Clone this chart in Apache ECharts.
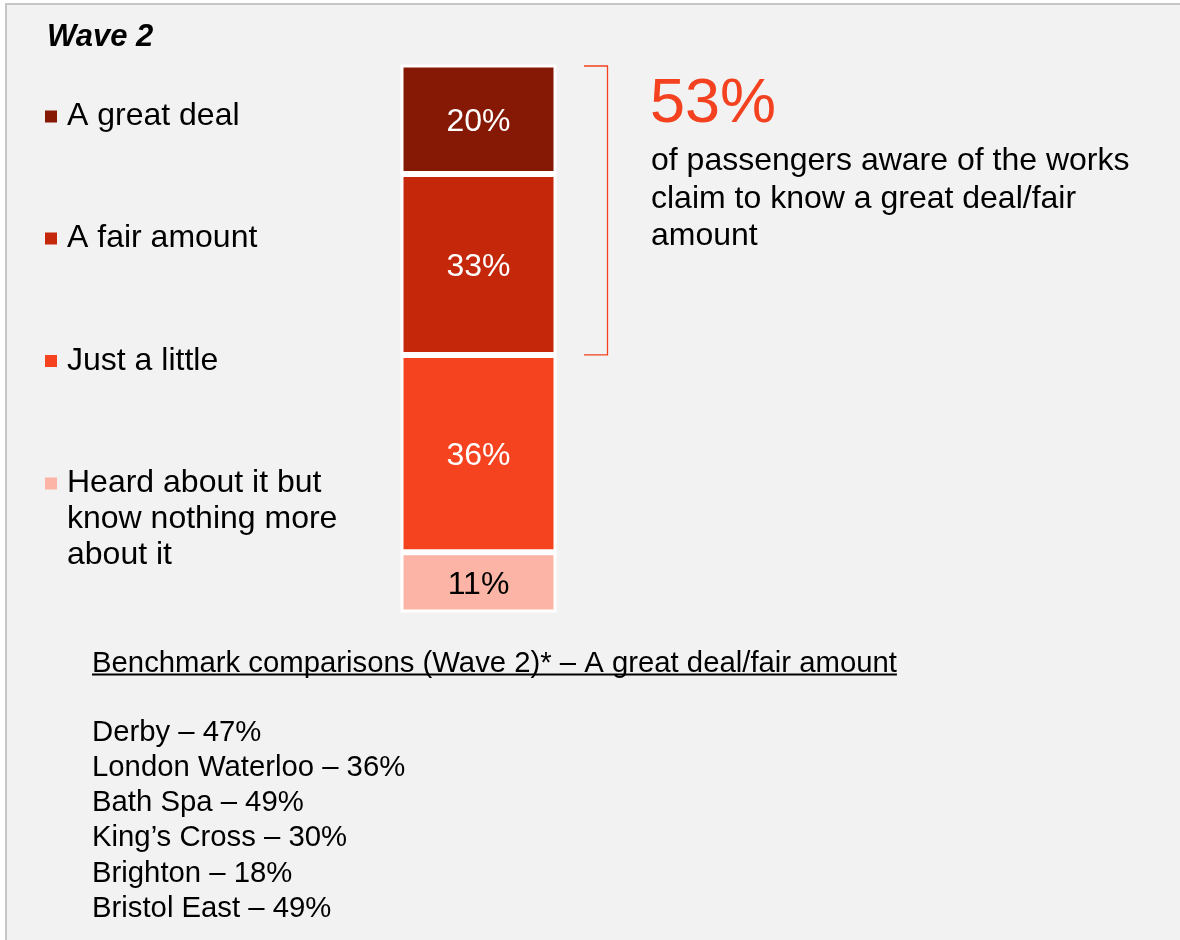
<!DOCTYPE html>
<html>
<head>
<meta charset="utf-8">
<title>Wave 2 – awareness of the works</title>
<script src="https://cdn.jsdelivr.net/npm/echarts@6.0.0/dist/echarts.min.js"></script>
<style>
  html, body { margin: 0; padding: 0; background: #ffffff; }
  #chart { width: 1180px; height: 940px; }
</style>
</head>
<body>
<div id="chart"></div>
<script>
// Response levels, top of the bar first
const levels = [
  'A great deal',
  'A fair amount',
  'Just a little',
  'Heard about it but\nknow nothing more\nabout it'
];
const shares = [20, 33, 36, 11];
const levelColors = ['#861905', '#c4270a', '#f5421f', '#fbb4a5'];
const labelColors = ['#ffffff', '#ffffff', '#ffffff', '#000000'];

const waveLabel = 'Wave 2';
const headlineText = 'of passengers aware of the works\nclaim to know a great deal/fair\namount';

const benchmarkTitle = 'Benchmark comparisons (Wave 2)* \u2013 A great deal/fair amount';
const benchmarkStations = ['Derby', 'London Waterloo', 'Bath Spa', 'King\u2019s Cross', 'Brighton', 'Bristol East'];
const benchmarkValues = [47, 36, 49, 30, 18, 49];

const FONT = "'Liberation Sans', Arial, Helvetica, sans-serif";
const ACCENT = '#f4411f';
const BORDER = 3;

const chart = echarts.init(document.getElementById('chart'), null, { renderer: 'canvas' });

// Stack from the bottom up: last level sits at the base of the bar
const stackOrder = [3, 2, 1, 0];
const series = stackOrder.map(function (i) {
  return {
    name: levels[i],
    type: 'bar',
    stack: 'awareness',
    barWidth: '100%',
    data: [shares[i]],
    itemStyle: { color: levelColors[i], borderColor: '#ffffff', borderWidth: BORDER },
    label: {
      show: true,
      position: 'inside',
      offset: [0, 2.5],
      formatter: '{c}%',
      color: labelColors[i],
      fontFamily: FONT,
      fontSize: 32
    },
    emphasis: { disabled: true }
  };
});

// One legend block per level, spaced down the left side
const legendTops = [98.5, 220.5, 343, 393.5];
const legends = levels.map(function (name, i) {
  const multi = name.indexOf('\n') >= 0;
  return {
    data: [name],
    orient: 'vertical',
    left: 45,
    top: legendTops[i],
    padding: 0,
    icon: 'rect',
    itemWidth: 12,
    itemHeight: 12,
    itemGap: 0,
    selectedMode: false,
    itemStyle: { borderWidth: 0 },
    formatter: function (n) { return multi ? '\n\n' + n : n; },
    textStyle: {
      color: '#000000',
      fontFamily: FONT,
      fontSize: 32,
      lineHeight: 36,
      padding: [0, 0, 0, 5]
    }
  };
});

chart.setOption({
  animation: false,
  backgroundColor: 'transparent',
  grid: { left: 400.5, width: 156, top: 64.5, bottom: 327.5 },
  xAxis: { type: 'category', data: [waveLabel], show: false },
  yAxis: { type: 'value', min: 0, max: 100, show: false },
  legend: legends,
  series: series
});

// Bracket spans the two "know" levels at the top of the bar
const knowShare = shares[0] + shares[1];
const yTop = chart.convertToPixel({ gridIndex: 0 }, [0, 100])[1] + BORDER / 2;
const yBottom = chart.convertToPixel({ gridIndex: 0 }, [0, 100 - knowShare])[1];

// Width of the underlined heading
const listFont = '29.3px ' + FONT;
const measureCtx = document.createElement('canvas').getContext('2d');
measureCtx.font = listFont;
const titleWidth = measureCtx.measureText(benchmarkTitle).width;

const benchmarkLines = benchmarkStations.map(function (s, i) {
  return s + ' \u2013 ' + benchmarkValues[i] + '%';
}).join('\n');

chart.setOption({
  graphic: [
    {
      type: 'rect', z: -10, silent: true,
      shape: { x: 6, y: 4, width: 1300, height: 1100 },
      style: { fill: '#f2f2f2', stroke: '#c6c6c6', lineWidth: 2 }
    },
    {
      type: 'text', x: 47, y: 37, silent: true,
      style: {
        text: waveLabel, fill: '#000000',
        font: 'italic bold 31px ' + FONT,
        align: 'left', verticalAlign: 'middle'
      }
    },
    {
      type: 'polyline', silent: true,
      shape: { points: [[584, yTop], [607.5, yTop], [607.5, yBottom], [584, yBottom]] },
      style: { stroke: ACCENT, lineWidth: 1.3, fill: null }
    },
    {
      type: 'text', x: 650, y: 104.5, silent: true,
      style: {
        text: knowShare + '%', fill: ACCENT,
        font: '63px ' + FONT,
        align: 'left', verticalAlign: 'middle'
      }
    },
    {
      type: 'text', x: 651, y: 142.5, silent: true,
      style: {
        text: headlineText, fill: '#000000',
        font: '32px ' + FONT, lineHeight: 37.5,
        align: 'left', verticalAlign: 'top'
      }
    },
    {
      type: 'text', x: 92, y: 663.5, silent: true,
      style: {
        text: benchmarkTitle, fill: '#000000',
        font: listFont,
        align: 'left', verticalAlign: 'middle'
      }
    },
    {
      type: 'line', silent: true,
      shape: { x1: 92, y1: 674.5, x2: 92 + titleWidth, y2: 674.5 },
      style: { stroke: '#000000', lineWidth: 2 }
    },
    {
      type: 'text', x: 92, y: 715.5, silent: true,
      style: {
        text: benchmarkLines, fill: '#000000',
        font: listFont, lineHeight: 35.1,
        align: 'left', verticalAlign: 'top'
      }
    }
  ]
});
</script>
</body>
</html>
